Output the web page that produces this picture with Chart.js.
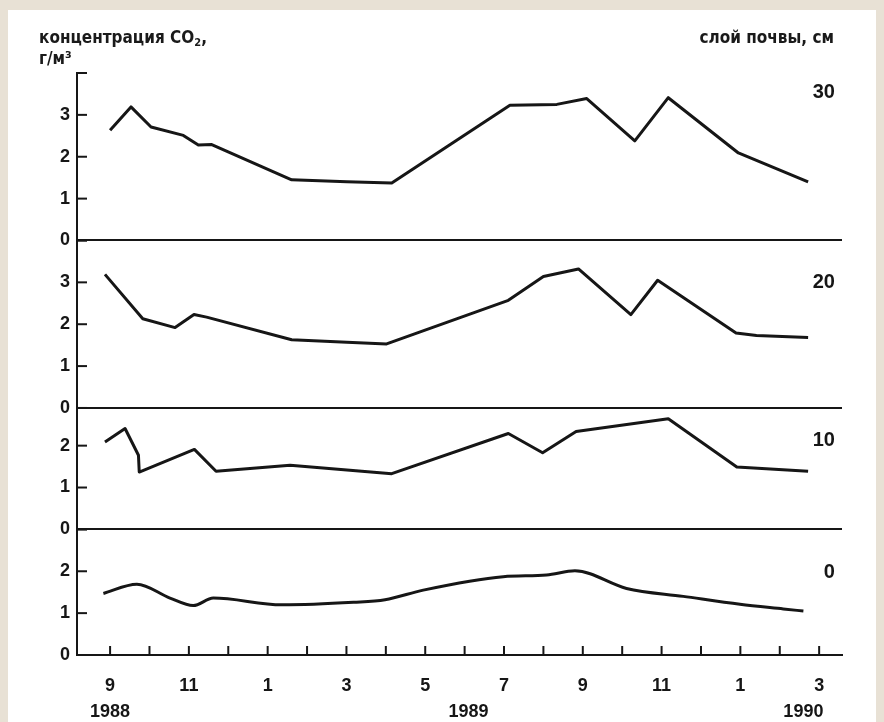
<!DOCTYPE html>
<html>
<head>
<meta charset="utf-8">
<script src="https://cdn.jsdelivr.net/npm/chart.js@4.4.1/dist/chart.umd.min.js"></script>
<style>
  body { margin: 0; background: #e8e1d5; }
  #page { position: absolute; left: 8px; top: 10px; width: 868px; height: 712px; background: #fff; }
  #wrap { position: absolute; left: 0; top: 0; width: 884px; height: 722px; }
  .hdr { position: absolute; font-family: "DejaVu Sans Condensed", "DejaVu Sans", sans-serif; font-weight: bold; font-size: 17px; color: #1a1a1a; white-space: nowrap; }
  .hdr sub { font-size: 11px; vertical-align: -3px; line-height: 0; }
</style>
</head>
<body>
<div id="page"></div>
<div id="wrap"><canvas id="chart" width="884" height="722"></canvas></div>
<div class="hdr" style="left:39px; top:27px;">концентрация CO<sub>2</sub>,</div>
<div class="hdr" style="left:39px; top:48px;">г/м³</div>
<div class="hdr" style="right:50px; top:27px;">слой почвы, см</div>
<script>
// x = months counted from September 1988
const monthLabels = ['9', '11', '1', '3', '5', '7', '9', '11', '1', '3'];
const yearLabels = ['1988', '1989', '1990'];
const yearMonths = [0, 9.1, 17.6];
const layerNames = ['30', '20', '10', '0'];

// 30 cm
const x30 = [0.0, 0.53, 1.04, 1.86, 2.24, 2.58, 4.61, 6.01, 7.15, 10.15, 11.34, 12.1, 13.32, 14.17, 15.95, 17.72];
const co30 = [2.63, 3.19, 2.71, 2.51, 2.28, 2.29, 1.45, 1.40, 1.37, 3.23, 3.25, 3.39, 2.38, 3.41, 2.09, 1.40];
// 20 cm
const x20 = [-0.13, 0.83, 1.65, 2.13, 2.45, 4.61, 6.01, 7.02, 10.11, 11.0, 11.89, 13.22, 13.9, 15.89, 16.41, 17.72];
const co20 = [3.19, 2.13, 1.92, 2.23, 2.17, 1.63, 1.57, 1.53, 2.57, 3.14, 3.32, 2.23, 3.05, 1.79, 1.73, 1.68];
// 10 cm
const x10 = [-0.13, 0.38, 0.72, 0.74, 2.14, 2.69, 4.57, 7.15, 10.11, 10.98, 11.83, 14.17, 15.91, 17.72];
const co10 = [2.09, 2.41, 1.77, 1.37, 1.91, 1.39, 1.53, 1.33, 2.29, 1.83, 2.34, 2.64, 1.49, 1.39];
// 0 cm
const x0 = [-0.17, 0.68, 1.52, 2.11, 2.62, 4.36, 6.18, 6.98, 7.95, 9.98, 11.08, 11.8, 13.11, 14.55, 15.99, 17.09, 17.6];
const co0 = [1.47, 1.69, 1.36, 1.18, 1.36, 1.20, 1.26, 1.32, 1.55, 1.87, 1.91, 2.01, 1.59, 1.40, 1.21, 1.10, 1.05];

const ink = '#161616';
const numFont = { family: '"Liberation Sans Narrow", "Liberation Sans", sans-serif', weight: 'bold', size: 18 };

function pts(xs, ys) {
  return xs.map((x, i) => ({ x: x, y: ys[i] }));
}

function panelScale(max, weight) {
  return {
    type: 'linear', position: 'left', stack: 'soil', stackWeight: weight,
    min: 0, max: max, offset: false,
    border: { display: true, color: ink, width: 2 },
    grid: { drawTicks: false, lineWidth: 2, color: c => c.tick && c.tick.value === 0 ? ink : 'rgba(0,0,0,0)' },
    ticks: { stepSize: 1, includeBounds: false, autoSkip: false, padding: 7, color: ink, font: numFont,
      callback: v => v < max ? String(v) : '' },
    afterFit: s => { s.width = 77; }
  };
}

// inward tick marks, layer names and years
const extras = {
  id: 'extras',
  afterDraw(chart) {
    const { ctx, chartArea, scales } = chart;
    ctx.save();
    ctx.strokeStyle = ink;
    ctx.lineWidth = 2;
    ['y30', 'y20', 'y10', 'y0'].forEach(id => {
      const s = scales[id];
      s.ticks.forEach(t => {
        const y = s.getPixelForValue(t.value);
        ctx.beginPath(); ctx.moveTo(chartArea.left, y); ctx.lineTo(chartArea.left + 10, y); ctx.stroke();
      });
    });
    const xs = scales.x;
    xs.ticks.forEach(t => {
      const x = xs.getPixelForValue(t.value);
      ctx.beginPath(); ctx.moveTo(x, chartArea.bottom); ctx.lineTo(x, chartArea.bottom - 9); ctx.stroke();
    });
    ctx.fillStyle = ink;
    ctx.font = 'bold 20px "Liberation Sans Narrow", "Liberation Sans", sans-serif';
    ctx.textAlign = 'right';
    ctx.textBaseline = 'middle';
    const labelAt = [3.53, 3.0, 2.13, 1.98];
    ['y30', 'y20', 'y10', 'y0'].forEach((id, i) => {
      ctx.fillText(layerNames[i], xs.getPixelForValue(18.4), scales[id].getPixelForValue(labelAt[i]));
    });
    ctx.font = 'bold 18px "Liberation Sans Narrow", "Liberation Sans", sans-serif';
    ctx.textAlign = 'center';
    yearLabels.forEach((t, i) => ctx.fillText(t, xs.getPixelForValue(yearMonths[i]), 712));
    ctx.restore();
  }
};

const line = (data, axis) => ({
  data: data, yAxisID: axis, borderColor: ink, borderWidth: 3, pointRadius: 0,
  tension: axis === 'y0' ? 0.4 : 0, cubicInterpolationMode: axis === 'y0' ? 'monotone' : 'default',
  borderJoinStyle: 'round', fill: false
});

new Chart(document.getElementById('chart'), {
  type: 'line',
  data: {
    datasets: [
      line(pts(x30, co30), 'y30'),
      line(pts(x20, co20), 'y20'),
      line(pts(x10, co10), 'y10'),
      line(pts(x0, co0), 'y0')
    ]
  },
  options: {
    responsive: false,
    animation: false,
    layout: { padding: { top: 73, right: 42, bottom: 0, left: 0 } },
    plugins: { legend: { display: false }, tooltip: { enabled: false } },
    scales: {
      x: {
        type: 'linear', min: -0.84, max: 18.58,
        border: { display: true, color: ink, width: 2 },
        grid: { display: false, drawTicks: false },
        ticks: { stepSize: 1, includeBounds: false, autoSkip: false, maxRotation: 0, padding: 20,
          color: ink, font: numFont,
          callback: v => v % 2 === 0 ? monthLabels[v / 2] : '' },
        afterFit: s => { s.height = 67; }
      },
      y0: panelScale(3.0, 3.0),
      y10: panelScale(2.9, 2.9),
      y20: panelScale(4.0, 4.0),
      y30: panelScale(4.0, 4.0)
    }
  },
  plugins: [extras]
});
</script>
</body>
</html>
